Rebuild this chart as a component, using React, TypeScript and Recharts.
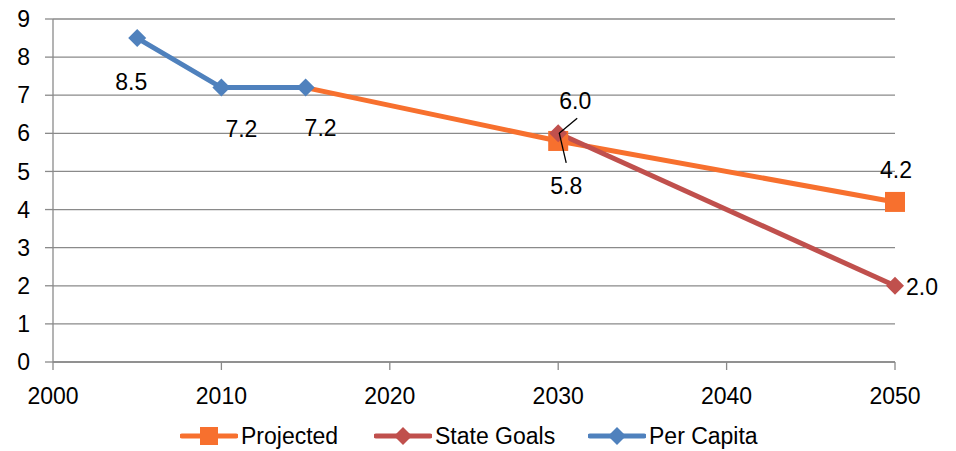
import React from 'react';
import { LineChart, Line, XAxis, YAxis, CartesianGrid, Legend, LabelList } from 'recharts';

const years = [2005, 2010, 2015, 2030, 2050];
const perCapita = [8.5, 7.2, 7.2, null, null];
const projected = [null, null, 7.2, 5.8, 4.2];
const stateGoals = [null, null, null, 6.0, 2.0];
const xTicks = [2000, 2010, 2020, 2030, 2040, 2050];
const yTicks = [0, 1, 2, 3, 4, 5, 6, 7, 8, 9];

const ORANGE = '#F7702E';
const RED = '#C0504D';
const BLUE = '#4F81BD';
const GRID = '#8A8A8A';
const FONT = '"Liberation Sans", Arial, sans-serif';

const data = years.map((year, i) => ({
  year,
  perCapita: perCapita[i],
  projected: projected[i],
  stateGoals: stateGoals[i],
}));

// label offsets from the point, per series and point index
const labelOffsets: Record<string, Record<number, [number, number]>> = {
  perCapita: { 0: [-6, 44], 1: [20, 41], 2: [15, 40] },
  projected: { 3: [8, 45], 4: [1, -32] },
  stateGoals: { 3: [17, -32], 4: [27, 1] },
};

// leader lines: [x1, y1, x2, y2] relative to the point
const leaders: Record<string, Record<number, [number, number, number, number]>> = {
  projected: { 3: [1, -8, 8, 22] },
  stateGoals: { 3: [1, 0, 19, -15] },
};

const makeLabel = (key: string) => (props: any) => {
  const { x, y, value, index } = props;
  const off = labelOffsets[key][index];
  if (value == null || !off) return null;
  const lead = leaders[key]?.[index];
  return (
    <g>
      {lead && (
        <line x1={x + lead[0]} y1={y + lead[1]} x2={x + lead[2]} y2={y + lead[3]} stroke="#000" strokeWidth={1.3} />
      )}
      <text x={x + off[0]} y={y + off[1]} textAnchor="middle" dominantBaseline="central" fontSize={23} fontFamily={FONT} fill="#000">
        {Number(value).toFixed(1)}
      </text>
    </g>
  );
};

const Diamond = ({ cx, cy, fill, r = 9 }: any) => (
  <path d={`M${cx},${cy - r}L${cx + r},${cy}L${cx},${cy + r}L${cx - r},${cy}Z`} fill={fill} />
);

const Square = ({ cx, cy, fill, r = 10 }: any) => (
  <rect x={cx - r} y={cy - r} width={r * 2} height={r * 2} fill={fill} />
);

const diamondDot = (color: string) => (props: any) => {
  if (props.value == null) return <g key={props.index} />;
  return <Diamond key={props.index} cx={props.cx} cy={props.cy} fill={color} />;
};

// the 2015 projected point sits under the per-capita marker, so it has none
const squareDot = (props: any) => {
  if (props.value == null || props.payload.year === 2015) return <g key={props.index} />;
  return <Square key={props.index} cx={props.cx} cy={props.cy} fill={ORANGE} />;
};

const legendItems = [
  { label: 'Projected', color: ORANGE, shape: 'square', left: 180 },
  { label: 'State Goals', color: RED, shape: 'diamond', left: 374 },
  { label: 'Per Capita', color: BLUE, shape: 'diamond', left: 588 },
];

const renderLegend = () => (
  <div style={{ position: 'relative', width: 956, height: 39, fontFamily: FONT, fontSize: 23 }}>
    {legendItems.map((item) => (
      <div key={item.label} style={{ position: 'absolute', left: item.left, top: 10, display: 'flex', alignItems: 'center' }}>
        <svg width={58} height={24}>
          <line x1={2} y1={12} x2={56} y2={12} stroke={item.color} strokeWidth={5} strokeLinecap="round" />
          {item.shape === 'square' ? (
            <Square cx={29} cy={12} fill={item.color} r={9} />
          ) : (
            <Diamond cx={29} cy={12} fill={item.color} r={9} />
          )}
        </svg>
        <span style={{ marginLeft: 3, lineHeight: '28px', whiteSpace: 'nowrap' }}>{item.label}</span>
      </div>
    ))}
  </div>
);

export default function App() {
  const tick = { fontSize: 23, fontFamily: FONT, fill: '#000' };
  return (
    <div style={{ position: 'absolute', left: 0, top: 0, background: '#fff' }}>
      <LineChart width={956} height={451} data={data} margin={{ top: 19, right: 61, left: 0, bottom: 0 }}>
        <CartesianGrid vertical={false} stroke={GRID} strokeWidth={1.3} />
        <XAxis
          dataKey="year"
          type="number"
          domain={[2000, 2050]}
          ticks={xTicks}
          height={50}
          tick={tick}
          tickSize={8}
          tickMargin={18}
          stroke={GRID}
          strokeWidth={1.3}
        />
        <YAxis
          domain={[0, 9]}
          ticks={yTicks}
          width={53}
          tick={tick}
          tickSize={8}
          tickMargin={15}
          stroke={GRID}
          strokeWidth={1.3}
          interval={0}
        />
        <Legend verticalAlign="bottom" wrapperStyle={{ left: 0, width: 956 }} content={renderLegend} />
        <Line dataKey="projected" stroke={ORANGE} strokeWidth={5} dot={squareDot} activeDot={false} isAnimationActive={false}>
          <LabelList dataKey="projected" content={makeLabel('projected')} />
        </Line>
        <Line dataKey="stateGoals" stroke={RED} strokeWidth={5} dot={diamondDot(RED)} activeDot={false} isAnimationActive={false}>
          <LabelList dataKey="stateGoals" content={makeLabel('stateGoals')} />
        </Line>
        <Line dataKey="perCapita" stroke={BLUE} strokeWidth={5} dot={diamondDot(BLUE)} activeDot={false} isAnimationActive={false}>
          <LabelList dataKey="perCapita" content={makeLabel('perCapita')} />
        </Line>
      </LineChart>
    </div>
  );
}
